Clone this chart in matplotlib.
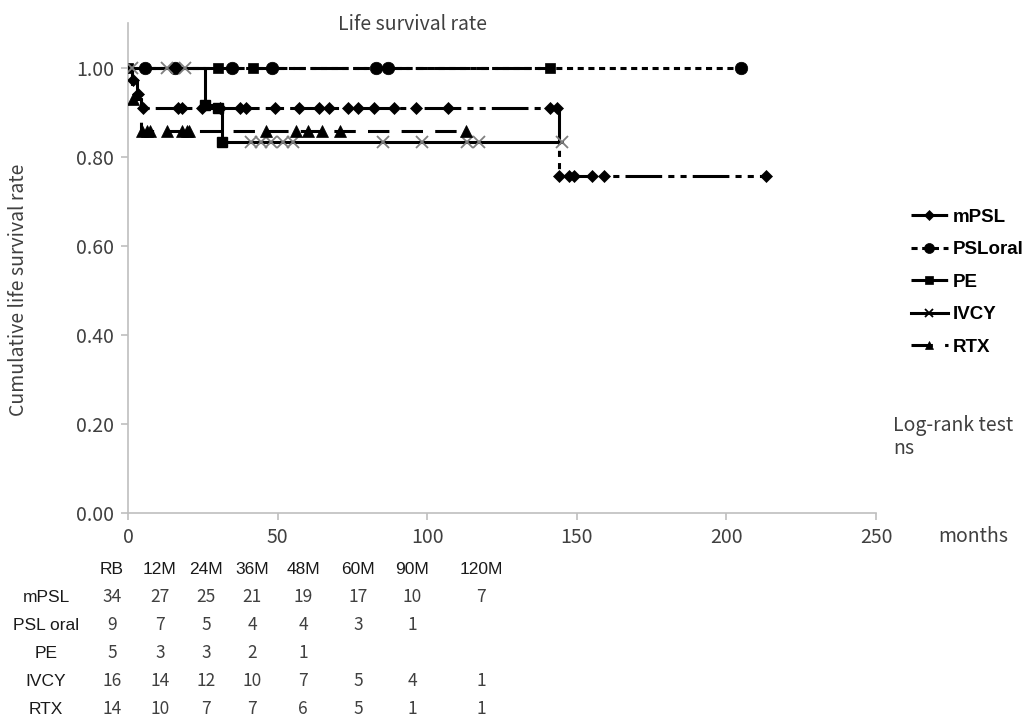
import numpy as np
import matplotlib
matplotlib.use("Agg")
import matplotlib.pyplot as plt
from matplotlib.lines import Line2D

# Kaplan-Meier step data (months, cumulative survival)
mpsl_t = [0, 1.5, 3.0, 4.5, 144.0]
mpsl_s = [1.0, 0.971, 0.941, 0.909, 0.757]
mpsl_end = 213.4
mpsl_marks = [1.8, 3.3, 5.1, 16.8, 17.9, 24.6, 30.7, 37.3, 39.6, 49.0, 57.3, 64.0,
              67.3, 73.4, 76.8, 82.3, 89.0, 96.2, 106.8, 141.2, 143.5, 144.2,
              147.3, 149.0, 155.0, 159.0, 213.4]

psl_t = [0]
psl_s = [1.0]
psl_end = 205.0
psl_marks = [5.7, 15.7, 34.7, 48.0, 83.0, 87.0, 205.0]

pe_t = [0]
pe_s = [1.0]
pe_end = 141.0
pe_marks = [0.0, 30.0, 41.8, 141.0]
pe_extra_t = [25.7, 30.0, 31.3]
pe_extra_s = [0.917, 0.909, 0.833]

ivcy_t = [0, 25.7, 31.3]
ivcy_s = [1.0, 0.917, 0.833]
ivcy_end = 145.0
ivcy_marks = [1.2, 12.9, 19.0, 41.2, 44.6, 47.9, 51.8, 55.1, 85.1, 98.4, 113.4,
              117.3, 145.0]

rtx_t = [0, 1.5, 4.5]
rtx_s = [1.0, 0.929, 0.857]
rtx_end = 113.0
rtx_marks = [1.8, 4.6, 6.2, 7.3, 13.0, 18.0, 19.6, 20.5, 46.0, 56.0, 60.0, 65.0,
             71.0, 113.0]

# numbers at risk table
table_cols = ["RB", "12M", "24M", "36M", "48M", "60M", "90M", "120M"]
table_rows = ["mPSL", "PSL oral", "PE", "IVCY", "RTX"]
risk_mpsl = [34, 27, 25, 21, 19, 17, 10, 7]
risk_psl = [9, 7, 5, 4, 4, 3, 1, None]
risk_pe = [5, 3, 3, 2, 1, None, None, None]
risk_ivcy = [16, 14, 12, 10, 7, 5, 4, 1]
risk_rtx = [14, 10, 7, 7, 6, 5, 1, 1]

W, H = 1024, 718
fig = plt.figure(figsize=(W / 100, H / 100), dpi=100)
ax = fig.add_axes([128 / W, 1 - 513 / H, (876 - 128) / W, (513 - 23) / H])

GRAY = "#404040"
JP = "Noto Sans CJK JP"


def px(x, y):
    return x / W, 1 - y / H


def km_at(t, s, x):
    idx = np.searchsorted(np.asarray(t), np.asarray(x), side="right") - 1
    return np.asarray(s)[idx]


series = [
    ("mPSL", mpsl_t, mpsl_s, mpsl_end, mpsl_marks,
     dict(ls=(0, (12, 2, 2, 2, 2, 2)), marker="D", ms=6, mfc="black", mec="black", mew=0.5)),
    ("PSLoral", psl_t, psl_s, psl_end, psl_marks,
     dict(ls=(0, (2, 1.5)), marker="o", ms=9, mfc="black", mec="black", mew=0.5)),
    ("PE", pe_t, pe_s, pe_end, pe_marks,
     dict(ls=(0, (12, 2, 4, 2)), marker="s", ms=7.5, mfc="black", mec="black", mew=0.5)),
    ("IVCY", ivcy_t, ivcy_s, ivcy_end, ivcy_marks,
     dict(ls="-", marker="x", ms=8, mfc="none", mec="#7f7f7f", mew=1.3)),
    ("RTX", rtx_t, rtx_s, rtx_end, rtx_marks,
     dict(ls=(0, (7, 4)), marker="^", ms=8, mfc="black", mec="black", mew=0.5)),
]

handles = []
for name, t, s, end, marks, st in series:
    xs = list(t) + [end]
    ys = list(s) + [s[-1]]
    ax.step(xs, ys, where="post", color="black", lw=2.2, ls=st["ls"], zorder=2)
    my = km_at(t, s, marks)
    ax.plot(marks, my, ls="none", marker=st["marker"], ms=st["ms"], mfc=st["mfc"],
            mec=st["mec"], mew=st["mew"], zorder=3)
    handles.append(Line2D([], [], color="black", lw=2.2, ls=st["ls"], marker=st["marker"],
                          ms=st["ms"] * 0.8, mfc=st["mfc"],
                          mec=st["mec"] if name != "IVCY" else "black",
                          mew=st["mew"], label=name))

ax.plot(pe_extra_t, pe_extra_s, ls="none", marker="s", ms=7.5, mfc="black", mec="black", zorder=3)

ax.set_xlim(0, 250)
ax.set_ylim(0, 1.1)
ax.set_xticks([0, 50, 100, 150, 200, 250])
ax.set_yticks([0, 0.2, 0.4, 0.6, 0.8, 1.0])
ax.set_yticklabels([f"{v:.2f}" for v in [0, 0.2, 0.4, 0.6, 0.8, 1.0]])
for side in ["top", "right"]:
    ax.spines[side].set_visible(False)
for side in ["left", "bottom"]:
    ax.spines[side].set_color("#bfbfbf")
    ax.spines[side].set_linewidth(1.2)
ax.tick_params(axis="both", colors="#bfbfbf", length=5, width=1.2, direction="out",
               labelcolor=GRAY, labelsize=14, pad=5)
for lab in ax.get_xticklabels() + ax.get_yticklabels():
    lab.set_fontfamily(JP)

fig.text(*px(19, 290), "Cumulative life survival rate", rotation=90, ha="center", va="center",
         fontsize=14, color=GRAY, family=JP)
fig.text(*px(412, 24), "Life survival rate", ha="center", va="center",
         fontsize=14, color=GRAY, family=JP)
fig.text(*px(973, 536), "months", ha="center", va="center",
         fontsize=14, color=GRAY, family=JP)
fig.text(*px(893, 437), "Log-rank test\nns", ha="left", va="center", linespacing=1.15,
         fontsize=14, color=GRAY, family=JP)

fig.legend(handles=handles, loc="upper left", bbox_to_anchor=px(903, 201), frameon=False,
           prop=dict(family="Liberation Sans", weight="bold", size=13.5),
           labelspacing=0.82, handlelength=2.0, handletextpad=0.25, borderaxespad=0)

# numbers at risk table
col_x = [112, 160, 206, 252, 303, 358, 412, 481]
row_y = [597, 625, 653, 681, 709]
for cx, c in zip(col_x, table_cols):
    fig.text(*px(cx, 569), c, ha="center", va="center", fontsize=12.5,
             family="Liberation Sans", color="#1a1a1a")
risk = [risk_mpsl, risk_psl, risk_pe, risk_ivcy, risk_rtx]
for ry, name, vals in zip(row_y, table_rows, risk):
    fig.text(*px(46, ry), name, ha="center", va="center", fontsize=12.5,
             family="Liberation Sans", color="#1a1a1a")
    for cx, v in zip(col_x, vals):
        if v is not None:
            fig.text(*px(cx, ry), str(v), ha="center", va="center", fontsize=12.5,
                     family=JP, color=GRAY)

fig.savefig("out.png", dpi=100)
